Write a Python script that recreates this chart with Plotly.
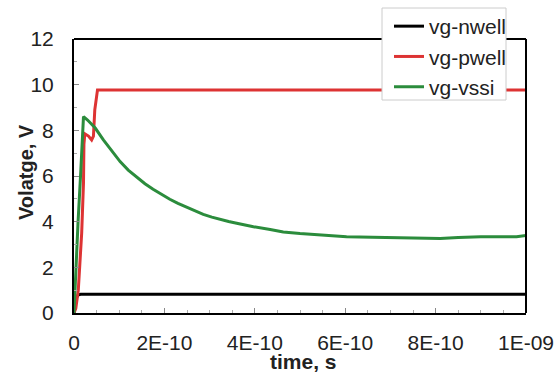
import plotly.graph_objects as go

# time in units of 1e-9 s (converted below)
nwell_t = [0, 0.003, 0.006, 0.010, 0.015, 1.0]
nwell_v = [0, 0.35, 0.70, 0.80, 0.82, 0.82]

pwell_t = [0, 0.004, 0.0095, 0.017, 0.021, 0.022, 0.024, 0.032, 0.039, 0.043, 0.046, 0.050, 0.052, 1.0]
pwell_v = [0, 0.2, 1.0, 3.5, 5.7, 7.4, 7.85, 7.75, 7.58, 7.75, 8.9, 9.6, 9.77, 9.77]

vssi_t = [0, 0.002, 0.009, 0.015, 0.019, 0.021, 0.030, 0.047, 0.065, 0.084, 0.102, 0.120,
          0.139, 0.157, 0.175, 0.194, 0.212, 0.230, 0.249, 0.268, 0.286, 0.305, 0.323,
          0.342, 0.360, 0.378, 0.397, 0.434, 0.463, 0.500, 0.537, 0.570, 0.603, 0.660,
          0.720, 0.760, 0.810, 0.850, 0.900, 0.979, 0.994, 1.0]
vssi_v = [0, 1.0, 4.0, 6.2, 7.9, 8.6, 8.45, 8.1, 7.58, 7.08, 6.63, 6.26,
          5.94, 5.66, 5.42, 5.19, 4.98, 4.80, 4.63, 4.47, 4.32, 4.20, 4.10,
          4.01, 3.93, 3.85, 3.78, 3.66, 3.55, 3.48, 3.43, 3.38, 3.34, 3.32,
          3.29, 3.26, 3.26, 3.31, 3.34, 3.34, 3.40, 3.40]

x_tickvals = [0, 0.2, 0.4, 0.6, 0.8, 1.0]
x_ticktext = ["0", "2E-10", "4E-10", "6E-10", "8E-10", "1E-09"]
y_tickvals = [0, 2, 4, 6, 8, 10, 12]

def sec(ts):
    return [t * 1e-9 for t in ts]

fig = go.Figure()
fig.add_trace(go.Scatter(x=sec(nwell_t), y=nwell_v, mode="lines", name="vg-nwell",
                         line=dict(color="#000000", width=3), legendgroup="a"))
fig.add_trace(go.Scatter(x=sec(pwell_t), y=pwell_v, mode="lines", name="vg-pwell",
                         line=dict(color="#dd3333", width=3), legendgroup="b"))
fig.add_trace(go.Scatter(x=sec(vssi_t), y=vssi_v, mode="lines", name="vg-vssi",
                         line=dict(color="#2b8c3c", width=3), legendgroup="c"))

font = "Liberation Sans, Arial, sans-serif"
L, R, T, B = 74, 34, 39, 61
PW, PH = 560 - L - R, 374 - T - B

def px_x(p):
    return (p - L) / PW

def px_y(p):
    return (374 - B - p) / PH

frame = dict(color="black", width=2)
fig.update_layout(
    width=560, height=374,
    margin=dict(l=L, r=R, t=T, b=B, autoexpand=False),
    paper_bgcolor="white", plot_bgcolor="white",
    font=dict(family=font, size=21, color="#222222"),
    showlegend=True,
    legend=dict(x=px_x(389), y=px_y(6), xref="paper", yref="paper",
                xanchor="left", yanchor="top",
                bgcolor="rgba(0,0,0,0)", borderwidth=0,
                font=dict(size=21, color="#222222"),
                tracegroupgap=0, traceorder="grouped", itemwidth=30),
    shapes=[
        # top and right frame lines
        dict(type="line", xref="paper", yref="paper", x0=0, x1=1, y0=1, y1=1,
             line=frame, layer="above"),
        dict(type="line", xref="paper", yref="paper", x0=1, x1=1, y0=0, y1=1,
             line=frame, layer="above"),
        # legend box
        dict(type="rect", xref="paper", yref="paper",
             x0=px_x(382), x1=px_x(506), y0=px_y(100), y1=px_y(8),
             fillcolor="white", line=dict(color="#cccccc", width=1), layer="above"),
    ],
    xaxis=dict(range=[0, 1e-9], tickvals=[v * 1e-9 for v in x_tickvals], ticktext=x_ticktext,
               automargin=False,
               showgrid=False, zeroline=False, showline=True, linecolor="black", linewidth=2,
               mirror=False, ticks="inside", ticklen=5, tickcolor="#888888",
               ticklabelstandoff=10, tickfont=dict(size=21),
               minor=dict(ticks="inside", ticklen=3, tickcolor="#aaaaaa", nticks=5)),
    yaxis=dict(range=[0, 12], tickvals=y_tickvals, automargin=False,
               showgrid=False, zeroline=False, showline=True, linecolor="black", linewidth=2,
               mirror=False, ticks="inside", ticklen=5, tickcolor="#888888",
               ticklabelstandoff=14, tickfont=dict(size=21),
               minor=dict(ticks="inside", ticklen=3, tickcolor="#aaaaaa", nticks=3)),
    annotations=[
        dict(text="<b>time, s</b>", xref="paper", yref="paper",
             x=px_x(303), y=px_y(361), xanchor="center", yanchor="middle",
             showarrow=False, font=dict(size=21, color="#222222")),
        dict(text="<b>Volatge, V</b>", xref="paper", yref="paper", textangle=-90,
             x=px_x(26), y=px_y(172), xanchor="center", yanchor="middle",
             showarrow=False, font=dict(size=20, color="#222222")),
    ],
)

fig.write_html("out.html")
